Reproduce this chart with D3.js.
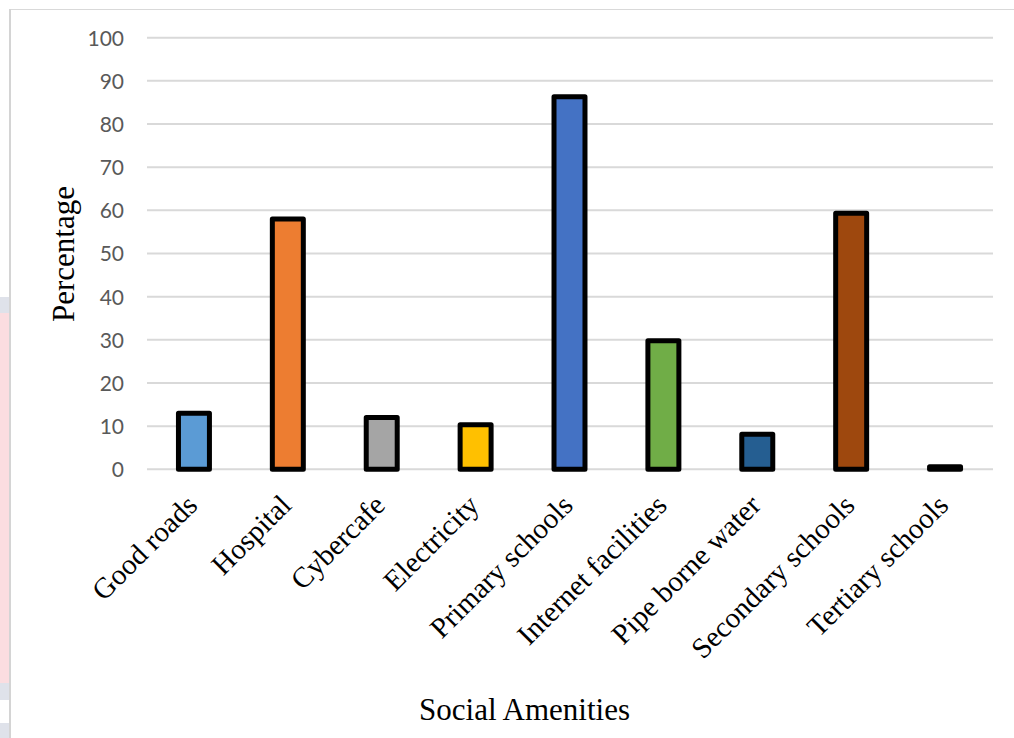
<!DOCTYPE html>
<html>
<head>
<meta charset="utf-8">
<script src="https://cdn.jsdelivr.net/npm/d3@7"></script>
<style>
  html, body { margin: 0; padding: 0; background: #ffffff; }
  svg { display: block; }
</style>
</head>
<body>
<svg id="chart" width="1014" height="738"></svg>
<script>
const categories = ["Good roads", "Hospital", "Cybercafe", "Electricity", "Primary schools",
  "Internet facilities", "Pipe borne water", "Secondary schools", "Tertiary schools"];
const values = [13, 58, 12, 10.3, 86.3, 29.8, 8.1, 59.3, 0.6];
const colors = ["#5B9BD5", "#ED7D31", "#A5A5A5", "#FFC000", "#4472C4",
  "#70AD47", "#255E91", "#9E480E", "#636363"];
const yTicks = [0, 10, 20, 30, 40, 50, 60, 70, 80, 90, 100];
const yTitle = "Percentage";
const xTitle = "Social Amenities";

const svg = d3.select("#chart");

// page artefacts at the left edge
const strip = svg.append("g");
strip.append("rect").attr("x", 0).attr("y", 297).attr("width", 9).attr("height", 16).attr("fill", "#dfe2ea");
strip.append("rect").attr("x", 0).attr("y", 313).attr("width", 9).attr("height", 370).attr("fill", "#fbdde0");
strip.append("rect").attr("x", 0).attr("y", 683).attr("width", 9).attr("height", 17).attr("fill", "#dfe2ea");
strip.append("rect").attr("x", 0).attr("y", 723).attr("width", 9).attr("height", 15).attr("fill", "#dfe2ea");

// chart border
svg.append("line").attr("x1", 10).attr("x2", 1014).attr("y1", 9.5).attr("y2", 9.5)
  .attr("stroke", "#d9d9d9").attr("stroke-width", 1);
svg.append("line").attr("x1", 10).attr("x2", 10).attr("y1", 9).attr("y2", 738)
  .attr("stroke", "#d4d4d4").attr("stroke-width", 2);

const x = d3.scaleBand().domain(categories).range([147, 992]).padding(0);
const y = d3.scaleLinear().domain([0, 100]).range([469.3, 37.7]);

// gridlines
svg.append("g").selectAll("line").data(yTicks).join("line")
  .attr("x1", 147).attr("x2", 993)
  .attr("y1", d => y(d)).attr("y2", d => y(d))
  .attr("stroke", "#d9d9d9").attr("stroke-width", 2);

// y axis tick labels
const yAxis = d3.axisLeft(y).tickValues(yTicks).tickSize(0).tickPadding(0);
const gy = svg.append("g").attr("transform", "translate(124,0)").call(yAxis);
gy.select(".domain").remove();
gy.selectAll("text")
  .attr("font-family", "Lato, 'Open Sans', sans-serif")
  .attr("font-size", 21)
  .attr("fill", "#595959")
  .attr("dy", "0.35em");

// bars
const barW = x.bandwidth() * 0.33;
svg.append("g").selectAll("rect").data(categories).join("rect")
  .attr("x", d => x(d) + x.bandwidth() / 2 - barW / 2)
  .attr("y", (d, i) => y(values[i]))
  .attr("width", barW)
  .attr("height", (d, i) => y(0) - y(values[i]))
  .attr("fill", (d, i) => colors[i])
  .attr("stroke", "#000")
  .attr("stroke-width", 5)
  .attr("stroke-linejoin", "round");

// category labels
const xAxis = d3.axisBottom(x).tickSize(0).tickPadding(0);
const gx = svg.append("g").call(xAxis);
gx.select(".domain").remove();
gx.selectAll(".tick").attr("transform", d => `translate(${x(d) + x.bandwidth() / 2 + 5},507)`);
gx.selectAll("text")
  .attr("font-family", "'Liberation Serif', 'Times New Roman', serif")
  .attr("font-size", 29)
  .attr("fill", "#000")
  .attr("text-anchor", "end")
  .attr("x", 0).attr("y", 0).attr("dy", 0)
  .attr("transform", "rotate(-45)");

// axis titles
svg.append("text")
  .attr("transform", "translate(74,254) rotate(-90)")
  .attr("text-anchor", "middle")
  .attr("font-family", "'Liberation Serif', 'Times New Roman', serif")
  .attr("font-size", 31)
  .attr("fill", "#000")
  .text(yTitle);

svg.append("text")
  .attr("x", 524.5).attr("y", 720)
  .attr("text-anchor", "middle")
  .attr("font-family", "'Liberation Serif', 'Times New Roman', serif")
  .attr("font-size", 31)
  .attr("fill", "#000")
  .text(xTitle);
</script>
</body>
</html>
